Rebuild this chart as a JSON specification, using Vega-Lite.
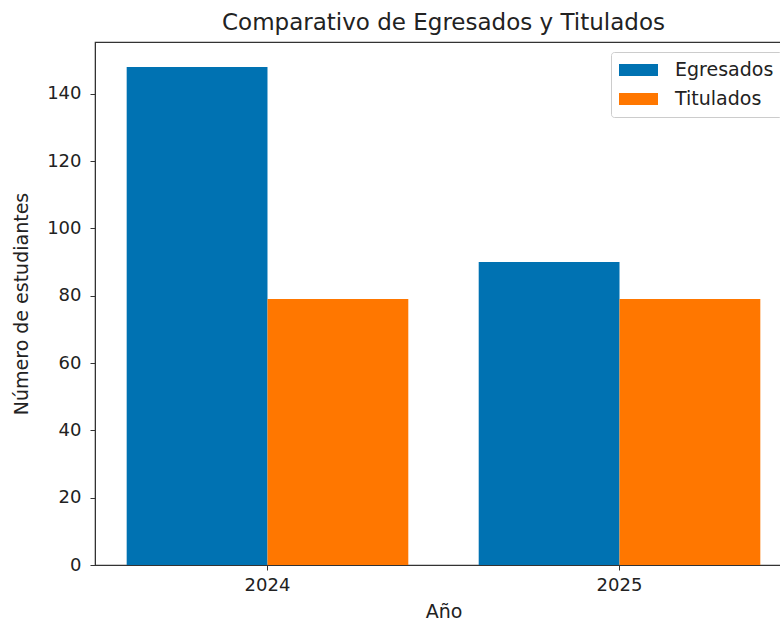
{
  "$schema": "https://vega.github.io/schema/vega-lite/v6.json",
  "width": 697,
  "height": 523,
  "autosize": {"type": "none"},
  "padding": {"left": 95, "top": 42, "right": 0, "bottom": 57},
  "background": "white",
  "title": {
    "text": "Comparativo de Egresados y Titulados",
    "font": "DejaVu Sans",
    "fontSize": 23,
    "fontWeight": "normal",
    "color": "#222",
    "anchor": "middle",
    "offset": 7
  },
  "config": {
    "view": {"stroke": "#333", "strokeWidth": 1.2},
    "font": "DejaVu Sans",
    "axis": {
      "labelFont": "DejaVu Sans",
      "labelFontSize": 18,
      "labelColor": "#222",
      "titleFont": "DejaVu Sans",
      "titleFontSize": 19,
      "titleFontWeight": "normal",
      "titleColor": "#222",
      "tickColor": "#333",
      "domainColor": "#333",
      "tickSize": 5,
      "grid": false
    }
  },
  "data": {
    "values": [
      {"Año": "2024", "Serie": "Egresados", "Valor": 148},
      {"Año": "2024", "Serie": "Titulados", "Valor": 79},
      {"Año": "2025", "Serie": "Egresados", "Valor": 90},
      {"Año": "2025", "Serie": "Titulados", "Valor": 79}
    ]
  },
  "mark": {"type": "bar"},
  "encoding": {
    "x": {
      "field": "Año",
      "type": "nominal",
      "scale": {"paddingInner": 0.2, "paddingOuter": 0.09},
      "axis": {"labelAngle": 0, "title": "Año", "titlePadding": 8, "labelPadding": 6}
    },
    "xOffset": {
      "field": "Serie",
      "type": "nominal",
      "scale": {"paddingInner": 0, "paddingOuter": 0}
    },
    "y": {
      "field": "Valor",
      "type": "quantitative",
      "scale": {"domain": [0, 155.4], "nice": false},
      "axis": {"values": [0, 20, 40, 60, 80, 100, 120, 140], "title": "Número de estudiantes", "titlePadding": 15, "labelPadding": 9}
    },
    "color": {
      "field": "Serie",
      "type": "nominal",
      "scale": {"domain": ["Egresados", "Titulados"], "range": ["#0072b2", "#ff7700"]},
      "legend": {
        "title": null,
        "orient": "none",
        "legendX": 516,
        "legendY": 10,
        "symbolType": "M-1,-0.3077H1V0.3077H-1Z",
        "symbolSize": 1521,
        "symbolStrokeWidth": 0,
        "labelFont": "DejaVu Sans",
        "labelFontSize": 19,
        "labelColor": "#222",
        "labelOffset": 17,
        "clipHeight": 20,
        "rowPadding": 9,
        "padding": 8,
        "fillColor": "white",
        "strokeColor": "#ccc",
        "cornerRadius": 3
      }
    }
  }
}
